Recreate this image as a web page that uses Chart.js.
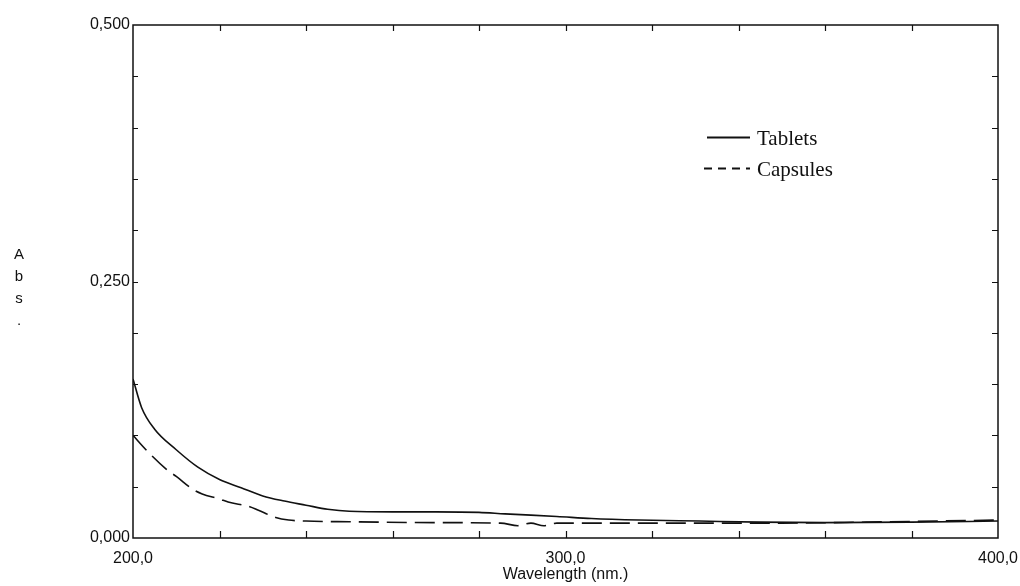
<!DOCTYPE html>
<html>
<head>
<meta charset="utf-8">
<script src="https://cdn.jsdelivr.net/npm/chart.js@4"></script>
<style>
  body { margin: 0; background: #fff; }
  #wrap { position: relative; width: 1020px; height: 586px; }
  #ytitle { position: absolute; left: 12px; top: 243px; width: 14px; text-align: center;
            font: 15px "Liberation Sans", Arial, sans-serif; line-height: 22px; color: #111; }
</style>
</head>
<body>
<div id="wrap">
  <canvas id="chart" width="1020" height="586"></canvas>
  <div id="ytitle">A<br>b<br>s<br>.</div>
</div>
<script>
// Данные спектров (длина волны, нм / поглощение)
const tabletsWl  = [200, 202, 205, 210, 215, 220, 225, 230, 235, 240, 245, 250, 260, 270, 280, 286, 298, 306, 317, 331, 345, 360, 380, 400];
const tabletsAbs = [0.155, 0.127, 0.106, 0.086, 0.069, 0.057, 0.049, 0.041, 0.036, 0.032, 0.028, 0.026, 0.0255, 0.0255, 0.025, 0.0235, 0.021, 0.019, 0.0175, 0.0165, 0.0155, 0.015, 0.0155, 0.0165];

const capsulesWl  = [200, 203, 208, 210, 214, 216, 220, 222, 227, 229, 233, 236, 240, 250, 270, 285, 289, 292, 295, 298, 320, 350, 370, 400];
const capsulesAbs = [0.100, 0.086, 0.066, 0.060, 0.047, 0.043, 0.038, 0.035, 0.0305, 0.027, 0.020, 0.0175, 0.0165, 0.0158, 0.015, 0.0145, 0.012, 0.0145, 0.012, 0.0145, 0.0145, 0.0145, 0.0155, 0.0175];

// Подписи осей и засечки
const xTickLabels = { 200: '200,0', 300: '300,0', 400: '400,0' };
const yTickLabels = { 0: '0,000', 0.25: '0,250', 0.5: '0,500' };
const xMinorTicks = [220, 240, 260, 280, 300, 320, 340, 360, 380];
const yMinorTicks = [0.05, 0.1, 0.15, 0.2, 0.25, 0.3, 0.35, 0.4, 0.45];

const seriesNames = ['Tablets', 'Capsules'];

const toPoints = (xs, ys) => xs.map((x, i) => ({ x, y: ys[i] }));

// Рамка и внутренние засечки
const framePlugin = {
    id: 'frame',
    afterDraw(chart) {
        const { ctx, chartArea: a, scales: { x, y } } = chart;
        ctx.save();
        ctx.strokeStyle = '#111';
        ctx.lineWidth = 1.5;
        ctx.strokeRect(a.left, a.top, a.right - a.left, a.bottom - a.top);
        ctx.lineWidth = 1.2;
        ctx.beginPath();
        xMinorTicks.forEach(v => {
            const px = Math.round(x.getPixelForValue(v)) + 0.5;
            ctx.moveTo(px, a.bottom); ctx.lineTo(px, a.bottom - 7);
            ctx.moveTo(px, a.top); ctx.lineTo(px, a.top + 6);
        });
        yMinorTicks.forEach(v => {
            const py = Math.round(y.getPixelForValue(v)) + 0.5;
            ctx.moveTo(a.left, py); ctx.lineTo(a.left + 5, py);
            ctx.moveTo(a.right, py); ctx.lineTo(a.right - 6, py);
        });
        ctx.stroke();
        ctx.restore();
    }
};

// Легенда внутри области графика
const legendPlugin = {
    id: 'innerLegend',
    afterDraw(chart) {
        const { ctx } = chart;
        const rows = [137, 168];
        ctx.save();
        ctx.font = '21px "Liberation Serif", "Times New Roman", serif';
        ctx.fillStyle = '#111';
        ctx.textBaseline = 'middle';
        chart.data.datasets.forEach((ds, i) => {
            const yy = rows[i] + 0.5;
            ctx.strokeStyle = '#111';
            ctx.lineWidth = 2;
            ctx.setLineDash(i === 0 ? [] : [8, 6]);
            ctx.beginPath();
            ctx.moveTo(i === 0 ? 707 : 704, yy);
            ctx.lineTo(750, yy);
            ctx.stroke();
            ctx.setLineDash([]);
            ctx.fillText(ds.label, 757, rows[i] + 2);
        });
        ctx.restore();
    }
};

const ctx = document.getElementById('chart').getContext('2d');
const chart = new Chart(ctx, {
    type: 'scatter',
    data: {
        datasets: [
            { label: seriesNames[0], data: toPoints(tabletsWl, tabletsAbs), showLine: true,
              borderColor: '#111', borderWidth: 1.6, pointRadius: 0, cubicInterpolationMode: 'monotone' },
            { label: seriesNames[1], data: toPoints(capsulesWl, capsulesAbs), showLine: true,
              borderColor: '#111', borderWidth: 1.6, borderDash: [20, 8], pointRadius: 0, cubicInterpolationMode: 'monotone' }
        ]
    },
    options: {
        responsive: false,
        animation: false,
        devicePixelRatio: 1,
        layout: { padding: { left: 0, top: 25, right: 22, bottom: 0 } },
        plugins: { legend: { display: false }, tooltip: { enabled: false } },
        scales: {
            x: {
                type: 'linear', min: 200, max: 400,
                grid: { display: false, drawTicks: false },
                border: { display: false },
                ticks: {
                    stepSize: 100, padding: 11, maxRotation: 0, color: '#111',
                    font: { family: '"Liberation Sans", Arial, sans-serif', size: 16 },
                    callback: v => xTickLabels[v] || ''
                },
                title: {
                    display: true, text: 'Wavelength (nm.)', color: '#111',
                    font: { family: '"Liberation Sans", Arial, sans-serif', size: 16 },
                    padding: { top: 0, bottom: 2 }
                },
                afterFit: s => { s.height = 48; s.paddingLeft = 0; s.paddingRight = 0; }
            },
            y: {
                min: 0, max: 0.5,
                grid: { display: false, drawTicks: false },
                border: { display: false },
                ticks: {
                    stepSize: 0.25, padding: 3, color: '#111',
                    font: { family: '"Liberation Sans", Arial, sans-serif', size: 16 },
                    callback: v => yTickLabels[v] || ''
                },
                afterFit: s => { s.width = 133; s.paddingTop = 0; s.paddingBottom = 0; }
            }
        }
    },
    plugins: [framePlugin, legendPlugin]
});
</script>
</body>
</html>
